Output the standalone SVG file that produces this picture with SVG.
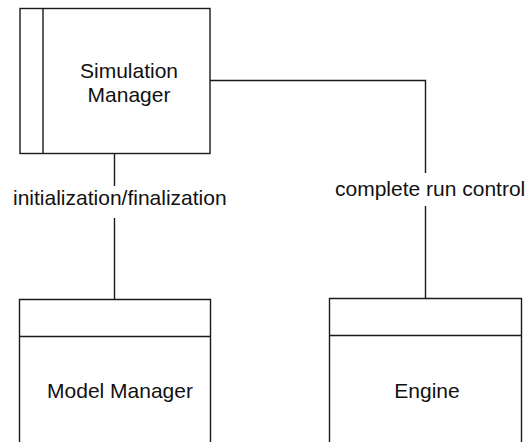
<svg xmlns="http://www.w3.org/2000/svg" width="531" height="442" viewBox="0 0 531 442">
  <style>
    .box { fill: #ffffff; stroke: #1a1a1a; stroke-width: 1.4; }
    .edge { fill: none; stroke: #1a1a1a; stroke-width: 1.4; }
    .lbl { font-family: "Liberation Sans", Arial, sans-serif; font-size: 21px; fill: #111111; }
  </style>
  <rect width="531" height="442" fill="#ffffff"/>

  <g id="connectors">
    <!-- Simulation Manager to Model Manager -->
    <path class="edge" d="M114.5 154 V186 M114.5 218 V299"/>
    <!-- Simulation Manager to Engine -->
    <path class="edge" d="M210 80.5 H425.5 V173 M425.5 206 V298"/>
    <text class="lbl" x="13" y="205">initialization/finalization</text>
    <text class="lbl" x="335" y="196">complete run control</text>
  </g>

  <g id="simulation-manager">
    <rect class="box" x="20" y="8.5" width="190" height="145"/>
    <line class="edge" x1="43" y1="8.5" x2="43" y2="153.5"/>
    <text class="lbl" x="129" y="78" text-anchor="middle">Simulation</text>
    <text class="lbl" x="129" y="102" text-anchor="middle">Manager</text>
  </g>

  <g id="model-manager">
    <path class="box" d="M19.5 450 V299.5 H210.5 V450"/>
    <line class="edge" x1="19.5" y1="336.5" x2="210.5" y2="336.5"/>
    <text class="lbl" x="120" y="398" text-anchor="middle">Model Manager</text>
  </g>

  <g id="engine">
    <path class="box" d="M329.5 450 V298.5 H521.5 V450"/>
    <line class="edge" x1="329.5" y1="335.5" x2="521.5" y2="335.5"/>
    <text class="lbl" x="427" y="398" text-anchor="middle">Engine</text>
  </g>
</svg>
